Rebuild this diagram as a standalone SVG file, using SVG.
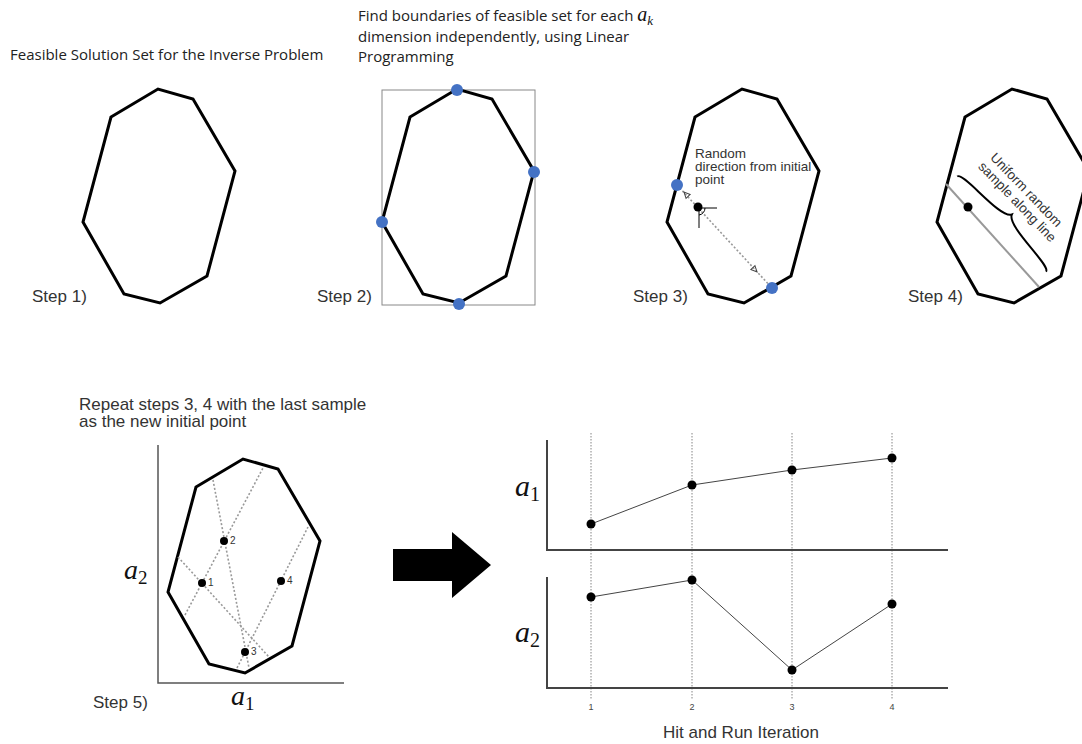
<svg xmlns="http://www.w3.org/2000/svg" width="1082" height="744" viewBox="0 0 1082 744">
<style>
.hull{fill:none;stroke:#000;stroke-width:3;stroke-linejoin:miter}
.hdr{font-family:"Open Sans","Noto Sans",sans-serif;font-size:15px;fill:#222}
.step{font-family:"Liberation Sans",Arial,sans-serif;font-size:17px;fill:#333}
.ann{font-family:"Liberation Sans",Arial,sans-serif;font-size:13.5px;fill:#333}
.math{font-family:"Liberation Serif","DejaVu Serif",serif;font-style:italic;fill:#111}
.sub{font-style:normal}
.bdot{fill:#4472C4}
.kdot{fill:#000}
.dash{fill:none;stroke:#999;stroke-width:1.6;stroke-dasharray:2 2}
.axis{fill:none;stroke:#444;stroke-width:2}
.grid{fill:none;stroke:#666;stroke-width:0.8;stroke-dasharray:1.5 1.5}
.series{fill:none;stroke:#444;stroke-width:1}
.tick{font-family:"Liberation Sans",Arial,sans-serif;font-size:9px;fill:#444;text-anchor:middle}
.lbl{font-family:"Liberation Sans",Arial,sans-serif;font-size:10px;fill:#333}
</style>
<defs>
<polygon id="hull" class="hull" points="111,117 158,89 193,99 235,171 207,276 160,303 124,294 83,222"/>
<path id="ah" d="M0,0 L-6,-2.8 L-6,2.8 Z" fill="none" stroke="#444" stroke-width="1"/>
</defs>

<g id="headers">
<text class="hdr" x="10" y="60">Feasible Solution Set for the Inverse Problem</text>
<text class="hdr" x="358" y="21">Find boundaries of feasible set for each <tspan class="math" font-size="20">a</tspan><tspan class="math" font-size="13" dy="4">k</tspan></text>
<text class="hdr" x="358" y="42">dimension independently, using Linear</text>
<text class="hdr" x="358" y="62">Programming</text>
</g>

<g id="step1">
<use href="#hull"/>
<text class="step" x="32" y="302">Step 1)</text>
</g>

<g id="step2">
<rect x="382" y="90" width="153" height="215" fill="none" stroke="#888" stroke-width="1"/>
<use href="#hull" transform="translate(299,0)"/>
<circle class="bdot" cx="457" cy="90" r="6"/>
<circle class="bdot" cx="534" cy="172" r="6"/>
<circle class="bdot" cx="382" cy="222" r="6"/>
<circle class="bdot" cx="459" cy="304" r="6"/>
<text class="step" x="317" y="302">Step 2)</text>
</g>

<g id="step3">
<use href="#hull" transform="translate(584,0)"/>
<line class="dash" x1="677" y1="185" x2="772" y2="288"/>
<use href="#ah" transform="translate(684,192) rotate(-133)"/>
<use href="#ah" transform="translate(757,272) rotate(47)"/>
<path d="M698,208 H717 M699,208 V228 M705,208 A7,7 0 0 1 699,215" fill="none" stroke="#000" stroke-width="1"/>
<circle class="kdot" cx="698" cy="207" r="4.5"/>
<circle class="bdot" cx="677" cy="185" r="6"/>
<circle class="bdot" cx="772" cy="288" r="6"/>
<text class="ann" x="695" y="158">Random</text>
<text class="ann" x="695" y="171">direction from initial</text>
<text class="ann" x="695" y="184">point</text>
<text class="step" x="633" y="302">Step 3)</text>
</g>

<g id="step4">
<use href="#hull" transform="translate(854,0)"/>
<line x1="946" y1="184" x2="1039" y2="287" stroke="#999" stroke-width="2"/>
<circle class="kdot" cx="968" cy="207" r="4.5"/>
<path d="M-65,6 C-65,-2 -5,4 0,-8 C5,4 65,-2 65,6" transform="translate(1006,220) rotate(47)" fill="none" stroke="#000" stroke-width="2"/>
<text class="ann" text-anchor="middle" transform="translate(1023,193) rotate(46)">Uniform random</text>
<text class="ann" text-anchor="middle" transform="translate(1014,205) rotate(46)">sample along line</text>
<text class="step" x="908" y="302">Step 4)</text>
</g>

<g id="step5">
<text class="step" font-size="16.5" x="79" y="410">Repeat steps 3, 4 with the last sample</text>
<text class="step" font-size="16.5" x="79" y="427">as the new initial point</text>
<path d="M158,445 V683 H344" fill="none" stroke="#555" stroke-width="1.5"/>
<use href="#hull" transform="translate(85,370)"/>
<line class="dash" x1="185" y1="615" x2="263" y2="468"/>
<line class="dash" x1="178" y1="557" x2="269" y2="657"/>
<line class="dash" x1="213" y1="480" x2="249" y2="668"/>
<line class="dash" x1="237" y1="668" x2="308" y2="527"/>
<circle class="kdot" cx="202" cy="583" r="4"/>
<circle class="kdot" cx="224" cy="541" r="4"/>
<circle class="kdot" cx="245" cy="652" r="4"/>
<circle class="kdot" cx="281" cy="581" r="4"/>
<text class="lbl" x="208" y="586">1</text>
<text class="lbl" x="230" y="544">2</text>
<text class="lbl" x="251" y="655">3</text>
<text class="lbl" x="287" y="584">4</text>
<text class="math" x="124" y="579" font-size="28">a<tspan class="sub" font-size="19" dy="5">2</tspan></text>
<text class="math" x="231" y="705" font-size="28">a<tspan class="sub" font-size="19" dy="5">1</tspan></text>
<text class="step" x="93" y="708">Step 5)</text>
</g>

<g id="bigArrow">
<polygon points="393,549 452,549 452,532 491,565 452,598 452,581 393,581" fill="#000"/>
</g>

<g id="plots">
<g class="grid">
<line x1="591" y1="433" x2="591" y2="700"/>
<line x1="692" y1="433" x2="692" y2="700"/>
<line x1="792" y1="433" x2="792" y2="700"/>
<line x1="892" y1="433" x2="892" y2="700"/>
</g>
<path class="axis" d="M547,440 V550 H948"/>
<path class="axis" d="M547,577 V688 H948"/>
<polyline class="series" points="591,524 692,485 792,470 892,458"/>
<polyline class="series" points="591,597 692,580 792,670 892,604"/>
<g class="kdot">
<circle cx="591" cy="524" r="4.5"/><circle cx="692" cy="485" r="4.5"/><circle cx="792" cy="470" r="4.5"/><circle cx="892" cy="458" r="4.5"/>
<circle cx="591" cy="597" r="4.5"/><circle cx="692" cy="580" r="4.5"/><circle cx="792" cy="670" r="4.5"/><circle cx="892" cy="604" r="4.5"/>
</g>
<text class="math" x="515" y="496" font-size="30">a<tspan class="sub" font-size="20" dy="5">1</tspan></text>
<text class="math" x="515" y="642" font-size="30">a<tspan class="sub" font-size="20" dy="5">2</tspan></text>
<text class="tick" x="591" y="710">1</text>
<text class="tick" x="692" y="710">2</text>
<text class="tick" x="792" y="710">3</text>
<text class="tick" x="892" y="710">4</text>
<text class="step" x="741" y="738" text-anchor="middle">Hit and Run Iteration</text>
</g>
</svg>
